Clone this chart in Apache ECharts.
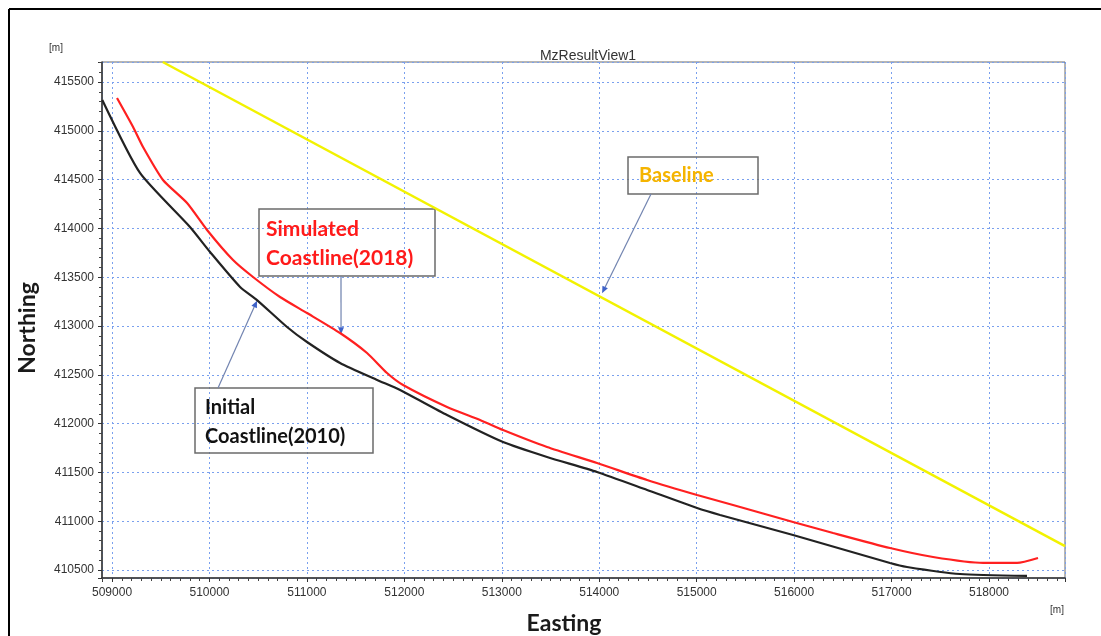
<!DOCTYPE html>
<html>
<head>
<meta charset="utf-8">
<script src="https://cdn.jsdelivr.net/npm/echarts@6/dist/echarts.min.js"></script>
<style>
  html, body { margin: 0; padding: 0; background: #ffffff; }
  #chart { width: 1101px; height: 636px; }
</style>
</head>
<body>
<div id="chart"></div>
<script>
// Shoreline positions [Easting, Northing] in metres
const initialCoastline2010 = [
  [508900, 415316], [509287, 414568], [509800, 414014], [510006, 413758],
  [510314, 413400], [510488, 413266], [510796, 412990], [511001, 412836],
  [511340, 412621], [511720, 412447], [511956, 412344], [512438, 412088],
  [513013, 411811], [513464, 411658], [513977, 411504], [514491, 411320],
  [515004, 411135], [515240, 411064], [515989, 410859], [516984, 410572],
  [517159, 410531], [517703, 410459], [518390, 410439]
];
const simulatedCoastline2018 = [
  [509051, 415336], [509216, 415039], [509318, 414834], [509523, 414496],
  [509770, 414260], [509975, 413984], [510242, 413676], [510447, 413502],
  [510724, 413297], [511001, 413133], [511340, 412928], [511617, 412723],
  [511822, 412518], [511987, 412395], [512438, 412170], [512777, 412037],
  [513013, 411934], [513464, 411760], [513977, 411596], [514491, 411422],
  [515004, 411268], [515373, 411166], [515989, 410992], [516400, 410879],
  [516984, 410725], [517426, 410633], [517939, 410572], [518288, 410572],
  [518503, 410623]
];
const baseline = [[509520, 415705], [518780, 410745]];

// Axis extents; tick spacing (1000 m / 500 m) comes from splitNumber
const eastingRange = [508897, 518780];
const northingRange = [410418, 415705];

// Callout texts and the point on each line that the arrow points at
const callouts = [
  { lines: ['Simulated', 'Coastline(2018)'], color: '#ff1a1a', target: [511350, 412915],
    box: [259, 209, 176, 67], textX: 266, lineY: [229, 258], from: [341, 276], size: 21 },
  { lines: ['Initial', 'Coastline(2010)'], color: '#111111', target: [510488, 413260],
    box: [195, 388, 178, 65], textX: 205, lineY: [408, 437], from: [218, 388], size: 20 },
  { lines: ['Baseline'], color: '#f5b400', target: [514029, 413335],
    box: [628, 157, 130, 37], textX: 639, lineY: [176], from: [651, 194], size: 20 }
];

const chart = echarts.init(document.getElementById('chart'), null, { renderer: 'canvas' });

const tickLabel = {
  color: '#333', fontSize: 12, fontFamily: 'Liberation Sans, Arial, sans-serif',
  formatter: v => String(Math.round(v))
};
const gridLine = { show: true, lineStyle: { color: '#7aa0ee', type: [2, 3], width: 1 } };

chart.setOption({
  animation: false,
  backgroundColor: '#ffffff',
  title: {
    text: 'MzResultView1', left: 583, top: 44, textAlign: 'center',
    textStyle: { fontSize: 14, fontWeight: 'normal', color: '#333', fontFamily: 'Liberation Sans, Arial, sans-serif' }
  },
  grid: { left: 102, top: 62, right: 36, bottom: 58, show: true, borderColor: '#6a6a6a', borderWidth: 1 },
  xAxis: {
    type: 'value', min: eastingRange[0], max: eastingRange[1], splitNumber: 10,
    axisLine: { show: true, onZero: false, lineStyle: { color: '#333', width: 1.5 } },
    axisTick: { show: true, inside: false, length: 4, lineStyle: { color: '#333' } },
    minorTick: { show: true, splitNumber: 10, length: 3, lineStyle: { color: '#444' } },
    axisLabel: { ...tickLabel, margin: 9, showMinLabel: false, showMaxLabel: false },
    splitLine: gridLine
  },
  yAxis: {
    type: 'value', min: northingRange[0], max: northingRange[1], splitNumber: 10,
    axisLine: { show: true, onZero: false, lineStyle: { color: '#333', width: 1.5 } },
    axisTick: { show: true, inside: false, length: 4, lineStyle: { color: '#333' } },
    minorTick: { show: true, splitNumber: 5, length: 3, lineStyle: { color: '#444' } },
    axisLabel: { ...tickLabel, margin: 8, showMinLabel: false, showMaxLabel: false },
    splitLine: gridLine
  },
  series: [
    { name: 'Baseline', type: 'line', data: baseline, symbol: 'none',
      lineStyle: { color: '#f2f200', width: 2.5 } },
    { name: 'Initial Coastline(2010)', type: 'line', data: initialCoastline2010, symbol: 'none',
      smooth: 0.2, lineStyle: { color: '#222222', width: 2.2 } },
    { name: 'Simulated Coastline(2018)', type: 'line', data: simulatedCoastline2018, symbol: 'none',
      smooth: 0.2, lineStyle: { color: '#ff2020', width: 2.2 } }
  ]
});

// Frame, axis names, units and callouts
const g = [];
g.push({ type: 'line', shape: { x1: 9, y1: 9, x2: 1101, y2: 9 }, style: { stroke: '#000', lineWidth: 2 }, silent: true });
g.push({ type: 'line', shape: { x1: 9, y1: 9, x2: 9, y2: 636 }, style: { stroke: '#000', lineWidth: 2 }, silent: true });
g.push({ type: 'text', style: { text: '[m]', x: 56, y: 48, align: 'center', verticalAlign: 'middle',
  fill: '#333', font: '10px Liberation Sans, Arial, sans-serif' } });
g.push({ type: 'text', style: { text: '[m]', x: 1057, y: 610, align: 'center', verticalAlign: 'middle',
  fill: '#333', font: '10px Liberation Sans, Arial, sans-serif' } });
g.push({ type: 'text', style: { text: 'Easting', x: 564, y: 624, align: 'center', verticalAlign: 'middle',
  fill: '#1a1a1a', font: 'bold 23px Lato, sans-serif' } });
g.push({ type: 'text', rotation: Math.PI / 2, x: 28, y: 328,
  style: { text: 'Northing', x: 0, y: 0, align: 'center', verticalAlign: 'middle',
  fill: '#1a1a1a', font: 'bold 23px Lato, sans-serif' } });

callouts.forEach(c => {
  const [bx, by, bw, bh] = c.box;
  g.push({ type: 'rect', shape: { x: bx, y: by, width: bw, height: bh },
    style: { fill: 'rgba(255,255,255,0)', stroke: '#6b6b6b', lineWidth: 1.5 } });
  c.lines.forEach((t, i) => {
    g.push({ type: 'text', style: { text: t, x: c.textX, y: c.lineY[i], align: 'left', verticalAlign: 'middle',
      fill: c.color, font: 'bold ' + c.size + 'px Lato, sans-serif' } });
  });
  const tip = chart.convertToPixel({ gridIndex: 0 }, c.target);
  const [fx, fy] = c.from;
  const ang = Math.atan2(tip[1] - fy, tip[0] - fx);
  const len = 7, half = 3;
  const bxp = tip[0] - len * Math.cos(ang), byp = tip[1] - len * Math.sin(ang);
  g.push({ type: 'line', shape: { x1: fx, y1: fy, x2: bxp, y2: byp }, style: { stroke: '#7284b0', lineWidth: 1.2 } });
  g.push({ type: 'polygon', shape: { points: [
    [tip[0], tip[1]],
    [bxp + half * Math.sin(ang), byp - half * Math.cos(ang)],
    [bxp - half * Math.sin(ang), byp + half * Math.cos(ang)]
  ] }, style: { fill: '#3f62c8' } });
});

chart.setOption({ graphic: g });
</script>
</body>
</html>
